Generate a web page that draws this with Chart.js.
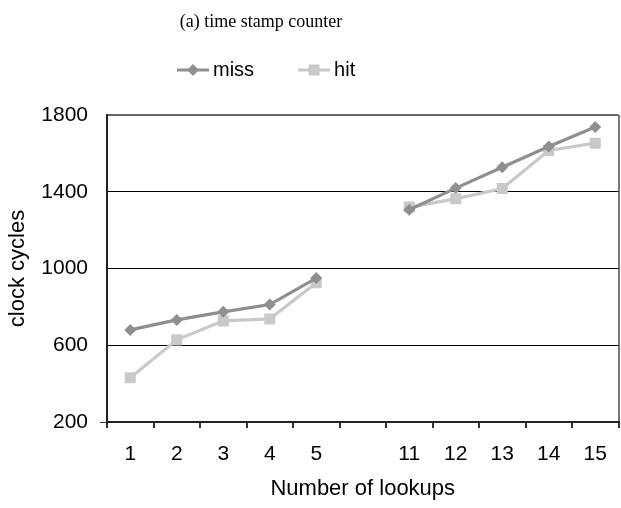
<!DOCTYPE html>
<html>
<head>
<meta charset="utf-8">
<script src="https://cdn.jsdelivr.net/npm/chart.js@4/dist/chart.umd.min.js"></script>
<style>
  html, body { margin: 0; padding: 0; background: #fff; }
  #wrap { width: 621px; height: 508px; }
</style>
</head>
<body>
<div id="wrap"><canvas id="tscChart" width="621" height="508"></canvas></div>
<script>
// data
const lookups = ['1', '2', '3', '4', '5', '', '11', '12', '13', '14', '15'];
const missCycles = [680, 732, 774, 812, 950, null, 1306, 1419, 1528, 1636, 1737];
const hitCycles = [431, 628, 727, 737, 926, null, 1320, 1363, 1417, 1615, 1653];
const yTicks = [200, 600, 1000, 1400, 1800];

const MISS_COLOR = '#8f8f8f';
const HIT_COLOR = '#c9c9c9';

Chart.defaults.font.family = '"Liberation Sans", Arial, sans-serif';
Chart.defaults.color = '#000';

// title + legend drawn above the plot (legend items are line + marker)
const headerPlugin = {
    id: 'header',
    afterDraw(chart) {
        const ctx = chart.ctx;
        ctx.save();
        ctx.fillStyle = '#000';
        ctx.font = '18px "Liberation Serif", "Times New Roman", serif';
        ctx.textAlign = 'center';
        ctx.textBaseline = 'middle';
        ctx.fillText('(a) time stamp counter', 261, 22);

        let x = 177;
        const y = 70;
        ctx.font = '20px "Liberation Sans", Arial, sans-serif';
        ctx.textAlign = 'left';
        chart.data.datasets.forEach(ds => {
            ctx.strokeStyle = ds.borderColor;
            ctx.lineWidth = 3;
            ctx.beginPath();
            ctx.moveTo(x, y);
            ctx.lineTo(x + 32, y);
            ctx.stroke();
            ctx.fillStyle = ds.borderColor;
            const cx = x + 16;
            if (ds.pointStyle === 'rectRot') {
                ctx.beginPath();
                ctx.moveTo(cx, y - 6);
                ctx.lineTo(cx + 6, y);
                ctx.lineTo(cx, y + 6);
                ctx.lineTo(cx - 6, y);
                ctx.closePath();
                ctx.fill();
            } else {
                ctx.fillRect(cx - 5.5, y - 5.5, 11, 11);
            }
            ctx.fillStyle = '#000';
            ctx.fillText(ds.label, x + 36, y);
            x += 36 + ctx.measureText(ds.label).width + 44;
        });
        ctx.restore();
    }
};

const ctx = document.getElementById('tscChart').getContext('2d');
const chart = new Chart(ctx, {
    type: 'line',
    data: {
        labels: lookups,
        datasets: [{
            label: 'miss',
            data: missCycles,
            borderColor: MISS_COLOR,
            backgroundColor: MISS_COLOR,
            borderWidth: 3.2,
            pointStyle: 'rectRot',
            pointRadius: 6,
            pointBorderWidth: 0,
            pointHoverRadius: 6,
            spanGaps: false
        }, {
            label: 'hit',
            data: hitCycles,
            borderColor: HIT_COLOR,
            backgroundColor: HIT_COLOR,
            borderWidth: 3.2,
            pointStyle: 'rect',
            pointRadius: 7.8,
            pointBorderWidth: 0,
            pointHoverRadius: 7.8,
            spanGaps: false
        }]
    },
    options: {
        responsive: false,
        animation: false,
        layout: {
            autoPadding: false,
            padding: { top: 115, right: 1, left: 0, bottom: 0 }
        },
        plugins: {
            legend: { display: false },
            title: { display: false },
            tooltip: { enabled: false }
        },
        scales: {
            x: {
                offset: true,
                afterFit: s => { s.height = 86; },
                grid: {
                    offset: true,
                    drawOnChartArea: true,
                    // only the right-hand frame edge is shown inside the plot
                    color: c => c.type === 'scale' ? '#777' : 'rgba(0,0,0,0)',
                    lineWidth: 2,
                    tickColor: '#333',
                    tickLength: 6
                },
                border: { color: '#222', width: 2 },
                ticks: {
                    font: { size: 21 },
                    padding: 14,
                    maxRotation: 0,
                    autoSkip: false
                },
                title: {
                    display: true,
                    text: 'Number of lookups',
                    font: { size: 22 },
                    padding: { top: 0, bottom: 6 }
                }
            },
            y: {
                min: 200,
                max: 1800,
                afterFit: s => { s.width = 107; },
                afterBuildTicks: s => { s.ticks = yTicks.map(v => ({ value: v })); },
                grid: {
                    color: c => {
                        if (c.tick && c.tick.value === 1800) return '#666';
                        if (c.tick && c.tick.value === 200) return 'rgba(0,0,0,0)';
                        return '#000';
                    },
                    lineWidth: c => (c.tick && c.tick.value === 1800) ? 2 : 1,
                    tickColor: c => (c.tick && c.tick.value === 200) ? '#333' : 'rgba(0,0,0,0)',
                    tickLength: 7
                },
                border: { color: '#222', width: 2 },
                ticks: {
                    font: { size: 21 },
                    padding: 12,
                    callback: v => String(v)
                },
                title: {
                    display: true,
                    text: 'clock cycles',
                    font: { size: 22 },
                    padding: { top: 5, bottom: 0 }
                }
            }
        }
    },
    plugins: [headerPlugin]
});
</script>
</body>
</html>
